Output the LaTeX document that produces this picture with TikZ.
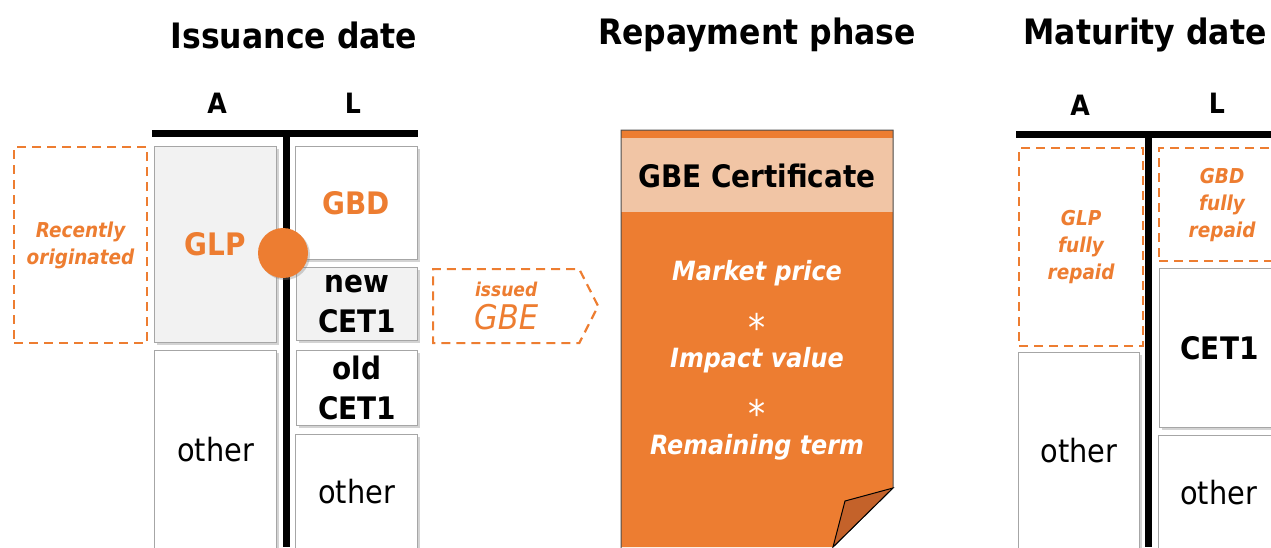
\documentclass[tikz,border=0pt]{standalone}
\usepackage{fontspec}
\setmainfont{DejaVu Sans Condensed}
\usetikzlibrary{positioning,shapes.symbols,shadows}
\definecolor{gbeorange}{HTML}{ED7D31}
\definecolor{gbepeach}{HTML}{F1C5A5}
\definecolor{gbefold}{HTML}{C4622A}
\definecolor{boxgrey}{HTML}{F2F2F2}
\tikzset{
  title/.style={font=\fontsize{35}{40}\selectfont\bfseries},
  colhead/.style={font=\fontsize{28}{30}\selectfont\bfseries},
  bal/.style={rectangle,draw=black!35,line width=1pt,fill=white,anchor=north west,inner sep=0pt,
    align=center,font=\fontsize{32}{39}\selectfont,
    drop shadow={shadow xshift=2pt,shadow yshift=-2pt,opacity=.35}},
  balgrey/.style={bal,fill=boxgrey},
  boldtxt/.style={font=\fontsize{31}{40}\selectfont\bfseries},
  gone/.style={rectangle,draw=gbeorange,dash pattern=on 9pt off 6pt,line width=2.2pt,
    anchor=north west,inner sep=0pt,align=center,text=gbeorange,
    font=\fontsize{20.5}{27}\selectfont\bfseries\itshape},
  tbar/.style={line width=7pt},
  cert/.style={text=white,inner sep=1pt,font=\fontsize{26.5}{28}\selectfont\bfseries\itshape},
  star/.style={text=white,inner sep=0pt,font=\fontsize{38}{38}\selectfont},
}
\begin{document}
\begin{tikzpicture}[x=1pt,y=-1pt]
  \clip (0,0) rectangle (1271,547);
  % headings
  \node[title] (tissue) at (294,35) {Issuance date};
  \node[title] (trepay) at (757,35) {Repayment phase};
  \node[title] (tmatur) at (1145,35) {Maturity date};
  % issuance date balance sheet
  \node[colhead] (ia) at (217,103) {A};
  \node[colhead] (il) at (353,103) {L};
  \node[gone,minimum width=133,minimum height=196] (recent) at (13,146) {Recently\\originated};
  \node[balgrey,boldtxt,text=gbeorange,minimum width=122,minimum height=196] (glp) at (154,146) {GLP};
  \node[bal,minimum width=122,minimum height=199] (iother1) at (154,350) {other};
  \node[bal,boldtxt,text=gbeorange,minimum width=122,minimum height=113] (gbd) at (295,146) {GBD};
  \node[balgrey,boldtxt,minimum width=121,minimum height=73] (newcet) at (296,267) {new\\CET1};
  \node[bal,boldtxt,minimum width=121,minimum height=75] (oldcet) at (296,350) {old\\CET1};
  \node[bal,minimum width=122,minimum height=115] (iother2) at (295,434) {other};
  \draw[tbar] (152,133.5) -- (418,133.5);
  \draw[tbar] (286.5,133.5) -- (286.5,547);
  \node[circle,fill=gbeorange,minimum size=50pt,inner sep=0pt,
    drop shadow={shadow xshift=2pt,shadow yshift=-2pt,opacity=.35}] (link) at (283,253) {};
  % issued GBE
  \node[signal,signal to=east,signal pointer angle=126,draw=gbeorange,
    dash pattern=on 9pt off 6pt,line width=2.2pt,minimum width=165,minimum height=74,
    anchor=north west,inner sep=0pt,align=center,text=gbeorange] (issued) at (432,268)
    {{\fontsize{19}{22}\selectfont\bfseries\itshape issued}\\[7pt]
     {\fontsize{34}{30}\selectfont\itshape GBE}};
  % repayment phase certificate
  \fill[gbeorange] (621,130) -- (893,130) -- (893,488) -- (833,547) -- (621,547) -- cycle;
  \fill[gbepeach] (621,138) rectangle (893,212);
  \draw[black!70,line width=1pt] (621,548) -- (621,130) -- (893,130) -- (893,488) -- (833,547);
  \filldraw[fill=gbefold,draw=black,line width=1pt] (893,488) -- (845,501) -- (833,547) -- cycle;
  \node[boldtxt] (certhead) at (757,176) {GBE Certificate};
  \node[cert] (price) at (757,273) {Market price};
  \node[star] (star1) at (757,327) {*};
  \node[cert] (impact) at (757,360) {Impact value};
  \node[star] (star2) at (757,413) {*};
  \node[cert] (term) at (757,447) {Remaining term};
  % maturity date balance sheet
  \node[colhead] (ma) at (1080,105) {A};
  \node[colhead] (ml) at (1217,103) {L};
  \node[gone,minimum width=124,minimum height=198] (glprep) at (1018,147) {GLP\\fully\\repaid};
  \node[bal,minimum width=121,minimum height=197] (mother1) at (1018,352) {other};
  \node[gone,minimum width=126,minimum height=113] (gbdrep) at (1158,147) {GBD\\fully\\repaid};
  \node[bal,boldtxt,minimum width=120,minimum height=159] (cet) at (1159,268) {CET1};
  \node[bal,minimum width=120,minimum height=114] (mother2) at (1158,435) {other};
  \draw[tbar] (1016,134.5) -- (1275,134.5);
  \draw[tbar] (1148.5,134.5) -- (1148.5,547);
\end{tikzpicture}
\end{document}
